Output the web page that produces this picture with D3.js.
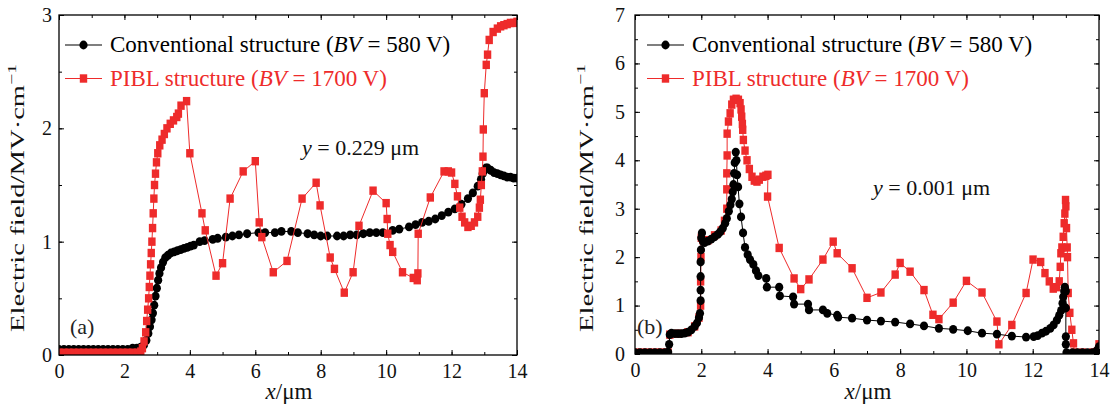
<!DOCTYPE html>
<html>
<head>
<meta charset="utf-8">
<script src="https://cdn.jsdelivr.net/npm/d3@7"></script>
<style>
  body { margin: 0; background: #fff; }
  svg { display: block; }
  text { font-family: "Liberation Serif", "DejaVu Serif", serif; }
</style>
</head>
<body>
<svg id="chart" width="1111" height="404"></svg>
<script>
// ---- data ----
var xTicks = [0, 2, 4, 6, 8, 10, 12, 14];
var yTicksA = [0, 1, 2, 3];
var yTicksB = [0, 1, 2, 3, 4, 5, 6, 7];
var seriesNames = ['Conventional structure', 'PIBL structure'];
var bvValues = [580, 1700];
var panelTags = ['(a)', '(b)'];
var depthLabels = ['0.229', '0.001'];

// panel (a), y = 0.229 um
var convA = [[0,0.05],[0.15,0.05],[0.3,0.05],[0.45,0.05],[0.6,0.05],[0.75,0.05],[0.9,0.05],[1.05,0.05],[1.2,0.05],[1.35,0.05],[1.5,0.05],[1.65,0.05],[1.8,0.05],[1.95,0.05],[2.1,0.05],[2.25,0.06],[2.38,0.06],[2.5,0.07],[2.6,0.09],[2.67,0.13],[2.73,0.19],[2.78,0.25],[2.83,0.31],[2.87,0.37],[2.91,0.44],[2.95,0.52],[2.99,0.59],[3.03,0.66],[3.07,0.72],[3.12,0.77],[3.18,0.82],[3.25,0.86],[3.33,0.88],[3.42,0.9],[3.52,0.91],[3.62,0.92],[3.72,0.93],[3.82,0.94],[3.92,0.95],[4.02,0.96],[4.12,0.97],[4.3,1.0],[4.45,1.01],[4.7,1.02],[4.85,1.03],[5.1,1.04],[5.3,1.05],[5.5,1.06],[5.75,1.07],[6.1,1.08],[6.3,1.08],[6.6,1.08],[6.8,1.09],[7.1,1.09],[7.3,1.08],[7.6,1.07],[7.8,1.06],[8.0,1.05],[8.2,1.05],[8.5,1.05],[8.7,1.05],[8.9,1.06],[9.1,1.06],[9.3,1.07],[9.5,1.08],[9.7,1.08],[9.9,1.08],[10.2,1.1],[10.4,1.11],[10.7,1.13],[10.9,1.15],[11.1,1.17],[11.3,1.18],[11.5,1.2],[11.7,1.23],[11.9,1.26],[12.1,1.29],[12.3,1.33],[12.5,1.38],[12.65,1.43],[12.8,1.49],[12.9,1.55],[12.95,1.6],[13.0,1.63],[13.05,1.65],[13.1,1.65],[13.2,1.63],[13.3,1.61],[13.4,1.6],[13.5,1.59],[13.6,1.58],[13.7,1.57],[13.8,1.57],[13.9,1.56],[14.0,1.56]];
var piblA = [[0,0.02],[0.15,0.02],[0.3,0.02],[0.45,0.02],[0.6,0.02],[0.75,0.02],[0.9,0.02],[1.05,0.02],[1.2,0.02],[1.35,0.02],[1.5,0.02],[1.65,0.02],[1.8,0.02],[1.95,0.02],[2.1,0.02],[2.25,0.02],[2.4,0.02],[2.5,0.03],[2.55,0.06],[2.6,0.12],[2.65,0.2],[2.68,0.3],[2.71,0.4],[2.74,0.5],[2.76,0.6],[2.78,0.7],[2.8,0.8],[2.82,0.9],[2.84,1.0],[2.86,1.12],[2.88,1.25],[2.9,1.38],[2.92,1.5],[2.95,1.6],[2.98,1.7],[3.02,1.78],[3.08,1.85],[3.15,1.9],[3.22,1.95],[3.3,2.0],[3.4,2.04],[3.5,2.07],[3.6,2.1],[3.65,2.13],[3.73,2.2],[3.9,2.24],[4.0,1.78],[4.37,1.25],[4.47,1.1],[4.8,0.7],[5.0,0.81],[5.23,1.38],[5.63,1.62],[6.0,1.71],[6.12,1.17],[6.2,1.04],[6.55,0.73],[6.97,0.83],[7.43,1.38],[7.86,1.52],[7.98,1.32],[8.29,0.86],[8.42,0.76],[8.72,0.55],[8.99,0.73],[9.17,1.14],[9.6,1.45],[10.0,1.34],[10.03,1.2],[10.05,1.07],[10.12,0.97],[10.2,0.91],[10.5,0.73],[10.83,0.68],[10.95,0.66],[10.97,0.72],[10.98,1.07],[11.35,1.39],[11.77,1.62],[11.9,1.62],[12.0,1.61],[12.1,1.51],[12.18,1.4],[12.25,1.3],[12.32,1.22],[12.4,1.17],[12.5,1.13],[12.6,1.14],[12.7,1.17],[12.8,1.22],[12.85,1.3],[12.88,1.37],[12.91,1.5],[12.94,1.62],[12.96,1.75],[12.97,1.99],[13.0,2.31],[13.06,2.56],[13.1,2.65],[13.15,2.78],[13.27,2.85],[13.4,2.88],[13.5,2.9],[13.6,2.91],[13.7,2.92],[13.8,2.93],[13.9,2.93],[14.0,2.94]];

// panel (b), y = 0.001 um
var convB = [[0,0.03],[0.15,0.03],[0.3,0.03],[0.45,0.03],[0.6,0.03],[0.75,0.03],[0.9,0.03],[1.0,0.04],[1.03,0.2],[1.05,0.4],[1.1,0.43],[1.2,0.42],[1.3,0.42],[1.4,0.42],[1.5,0.43],[1.6,0.45],[1.7,0.5],[1.8,0.57],[1.87,0.64],[1.93,0.75],[1.96,0.84],[1.98,1.1],[1.98,1.32],[1.98,1.6],[1.98,1.9],[1.99,2.15],[2.0,2.4],[2.02,2.5],[2.05,2.33],[2.1,2.3],[2.2,2.33],[2.3,2.37],[2.4,2.42],[2.5,2.47],[2.57,2.52],[2.65,2.6],[2.72,2.7],[2.77,2.8],[2.83,2.95],[2.88,3.08],[2.92,3.2],[2.95,3.35],[2.97,3.5],[2.99,3.73],[3.01,3.95],[3.04,4.17],[3.06,4.0],[3.08,3.7],[3.11,3.45],[3.15,3.1],[3.2,2.83],[3.26,2.5],[3.32,2.2],[3.4,2.05],[3.47,1.95],[3.57,1.85],[3.65,1.72],[3.72,1.62],[3.96,1.56],[3.98,1.38],[4.35,1.38],[4.37,1.2],[4.77,1.18],[4.8,1.03],[5.22,1.03],[5.25,0.91],[5.67,0.91],[5.8,0.84],[6.1,0.8],[6.13,0.76],[6.55,0.74],[7.0,0.7],[7.42,0.68],[7.85,0.66],[8.3,0.62],[8.72,0.58],[9.17,0.53],[9.6,0.51],[10.04,0.48],[10.47,0.43],[10.92,0.41],[11.37,0.37],[11.8,0.35],[12.03,0.36],[12.15,0.38],[12.28,0.43],[12.4,0.47],[12.53,0.53],[12.63,0.6],[12.73,0.7],[12.8,0.8],[12.86,0.9],[12.9,1.05],[12.92,1.18],[12.95,1.3],[12.97,1.38],[13.0,1.3],[13.0,0.95],[13.0,0.36],[13.0,0.2],[13.02,0.03],[13.2,0.03],[13.35,0.03],[13.5,0.03],[13.65,0.03],[13.8,0.03],[13.9,0.04],[13.95,0.08],[14.0,0.15]];
var piblB = [[0,0.03],[0.2,0.03],[0.4,0.03],[0.6,0.03],[0.8,0.03],[1.0,0.03],[1.05,0.4],[1.3,0.42],[1.6,0.45],[1.8,0.57],[1.93,0.75],[1.98,1.0],[1.98,1.5],[1.99,2.0],[2.0,2.4],[2.05,2.35],[2.2,2.35],[2.4,2.45],[2.6,2.55],[2.7,2.75],[2.77,3.0],[2.77,3.4],[2.77,3.73],[2.78,4.1],[2.78,4.55],[2.82,4.8],[2.87,4.97],[2.92,5.15],[2.97,5.25],[3.05,5.27],[3.12,5.25],[3.17,5.18],[3.2,5.05],[3.22,4.9],[3.24,4.75],[3.25,4.63],[3.27,4.42],[3.32,4.2],[3.38,4.0],[3.45,3.82],[3.53,3.66],[3.6,3.58],[3.68,3.56],[3.75,3.6],[3.86,3.66],[3.95,3.68],[4.01,3.7],[4.0,3.25],[4.35,2.19],[4.8,1.56],[5.0,1.34],[5.25,1.54],[5.67,1.95],[5.98,2.32],[6.1,2.08],[6.55,1.77],[7.0,1.16],[7.42,1.27],[7.85,1.64],[8.0,1.88],[8.3,1.7],[8.72,1.32],[8.99,0.81],[9.17,0.72],[9.6,1.06],[10.0,1.51],[10.47,1.27],[10.92,0.67],[10.98,0.2],[11.37,0.6],[11.8,1.26],[12.01,1.95],[12.24,1.9],[12.37,1.67],[12.5,1.5],[12.62,1.35],[12.72,1.38],[12.8,1.5],[12.83,1.8],[12.85,2.08],[12.88,2.2],[12.92,2.42],[12.95,2.7],[12.97,2.9],[12.99,3.18],[13.0,3.05],[13.02,2.6],[13.04,2.2],[13.05,2.0],[13.07,1.26],[13.12,0.85],[13.18,0.5],[13.23,0.22],[13.26,0.03],[13.5,0.03],[13.8,0.03],[13.95,0.05],[14.0,0.2]];

var RED = '#ee2b2b';
var svg = d3.select('#chart');
svg.append('rect').attr('width', 1111).attr('height', 404).attr('fill', '#fff');

function drawPanel(o) {
  var x = d3.scaleLinear().domain([0, 14]).range([o.left, o.right]);
  var y = d3.scaleLinear().domain([0, o.ymax]).range([o.bottom, o.top]);
  var g = svg.append('g');
  var cid = 'clip' + o.idx;
  g.append('clipPath').attr('id', cid).append('rect')
    .attr('x', o.left).attr('y', o.top).attr('width', o.right - o.left).attr('height', o.bottom - o.top);

  var minorX = d3.range(0, 15, 1), minorY = d3.range(0, o.ymax + 0.01, 0.5);
  // inward ticks on all four sides
  function ticks(axisFn, pos, scale, vals, len, labels) {
    var a = axisFn(scale).tickValues(vals).tickSizeInner(-len).tickSizeOuter(0);
    if (!labels) a.tickFormat('');
    else a.tickPadding(axisFn === d3.axisLeft ? o.ypad : 9).tickFormat(d3.format('d'));
    var ax = g.append('g').attr('transform', pos).call(a);
    ax.select('.domain').remove();
    ax.selectAll('line').attr('stroke', '#000').attr('stroke-width', 1);
    ax.selectAll('text').attr('font-size', 20).attr('fill', '#111')
      .style('font-family', '"Liberation Serif", serif');
    return ax;
  }
  ticks(d3.axisBottom, 'translate(0,' + o.bottom + ')', x, minorX, 3, false);
  ticks(d3.axisBottom, 'translate(0,' + o.bottom + ')', x, xTicks, 5, true);
  ticks(d3.axisTop, 'translate(0,' + o.top + ')', x, minorX, 3, false);
  ticks(d3.axisTop, 'translate(0,' + o.top + ')', x, xTicks, 5, false);
  ticks(d3.axisLeft, 'translate(' + o.left + ',0)', y, minorY, 3, false);
  ticks(d3.axisLeft, 'translate(' + o.left + ',0)', y, o.yticks, 5, true);
  ticks(d3.axisRight, 'translate(' + o.right + ',0)', y, minorY, 3, false);
  ticks(d3.axisRight, 'translate(' + o.right + ',0)', y, o.yticks, 5, false);

  var line = d3.line().x(function(d) { return x(d[0]); }).y(function(d) { return y(d[1]); });
  var plot = g.append('g').attr('clip-path', 'url(#' + cid + ')');

  function drawConv() {
    plot.append('path').datum(o.conv).attr('d', line).attr('fill', 'none').attr('stroke', '#000').attr('stroke-width', 1);
    plot.selectAll(null).data(o.conv).enter().append('ellipse')
      .attr('cx', function(d) { return x(d[0]); }).attr('cy', function(d) { return y(d[1]); })
      .attr('rx', 4.1).attr('ry', 4.4).attr('fill', '#000');
  }
  function drawPibl() {
    plot.append('path').datum(o.pibl).attr('d', line).attr('fill', 'none').attr('stroke', RED).attr('stroke-width', 1);
    plot.selectAll(null).data(o.pibl).enter().append('rect')
      .attr('x', function(d) { return x(d[0]) - 3.7; }).attr('y', function(d) { return y(d[1]) - 4.2; })
      .attr('width', 7.4).attr('height', 8.4).attr('fill', RED);
  }
  if (o.redOnTop) { drawConv(); drawPibl(); } else { drawPibl(); drawConv(); }

  g.append('rect').attr('x', o.left).attr('y', o.top).attr('width', o.right - o.left).attr('height', o.bottom - o.top)
    .attr('fill', 'none').attr('stroke', '#000').attr('stroke-width', 1.3);

  // legend
  var lx = o.legX, rows = [45, 78.5];
  [0, 1].forEach(function(i) {
    var col = i === 0 ? '#000' : RED;
    g.append('line').attr('x1', lx).attr('x2', lx + 37).attr('y1', rows[i]).attr('y2', rows[i])
      .attr('stroke', col).attr('stroke-width', 1.2);
    if (i === 0) g.append('ellipse').attr('cx', lx + 18.5).attr('cy', rows[i]).attr('rx', 4.1).attr('ry', 4.4).attr('fill', col);
    else g.append('rect').attr('x', lx + 14.8).attr('y', rows[i] - 4.2).attr('width', 7.4).attr('height', 8.4).attr('fill', col);
    var t = g.append('text').attr('x', lx + 45).attr('y', rows[i] + 7).attr('font-size', 23).attr('fill', col);
    t.append('tspan').text(seriesNames[i] + ' (');
    t.append('tspan').attr('font-style', 'italic').text('BV');
    t.append('tspan').text(' = ' + bvValues[i] + ' V)');
  });

  // depth annotation
  var ann = g.append('text').attr('x', o.annX).attr('y', o.annY).attr('font-size', 22).attr('fill', '#111');
  ann.append('tspan').attr('font-style', 'italic').text('y');
  ann.append('tspan').text(' = ' + depthLabels[o.idx] + ' \u03bcm');

  g.append('text').attr('x', o.tagX).attr('y', o.tagY).attr('font-size', 22).attr('fill', '#222').text(panelTags[o.idx]);

  // axis titles
  var xt = g.append('text').attr('x', (o.left + o.right) / 2 + 1).attr('y', 399).attr('text-anchor', 'middle')
    .attr('font-size', 23).attr('fill', '#111');
  xt.append('tspan').attr('font-style', 'italic').text('x');
  xt.append('tspan').text('/\u03bcm');

  // the picture is stretched along the y title, so scale the glyphs to the measured length
  var ytg = g.append('g').attr('transform', 'translate(' + o.ytX + ',198) rotate(-90)');
  var yt = ytg.append('text').attr('text-anchor', 'middle').attr('font-size', 19).attr('fill', '#111');
  yt.append('tspan').text('Electric field/MV\u00b7cm');
  yt.append('tspan').attr('font-size', 13).attr('dy', -8).text('\u22121');
  var len = yt.node().getComputedTextLength();
  yt.attr('transform', 'scale(' + (268 / len) + ',1)');
}

drawPanel({ idx: 0, left: 59, right: 517, top: 15, bottom: 355, ymax: 3, yticks: yTicksA, ypad: 7, legX: 65,
  conv: convA, pibl: piblA, redOnTop: true, annX: 302, annY: 155, tagX: 70, tagY: 334, ytX: 24 });
drawPanel({ idx: 1, left: 635, right: 1099, top: 15, bottom: 354, ymax: 7, yticks: yTicksB, ypad: 10, legX: 647,
  conv: convB, pibl: piblB, redOnTop: false, annX: 873, annY: 195, tagX: 637, tagY: 334, ytX: 593 });
</script>
</body>
</html>
